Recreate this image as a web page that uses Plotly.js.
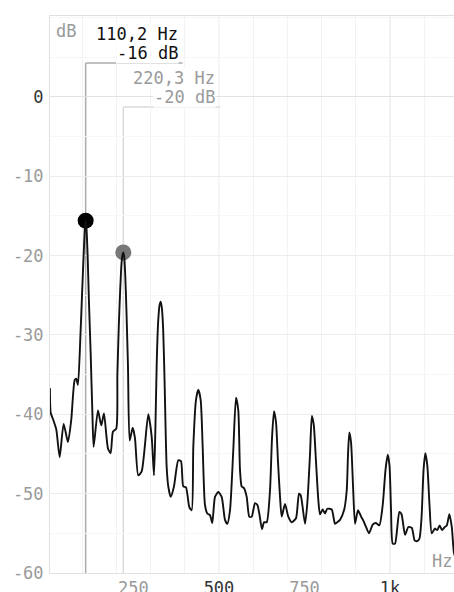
<!DOCTYPE html>
<html>
<head>
<meta charset="utf-8">
<script src="https://cdn.plot.ly/plotly-3.0.1.min.js"></script>
<style>
  html, body { margin: 0; padding: 0; background: #fff; }
  #chart { width: 454px; height: 592px; }
</style>
</head>
<body>
<div id="chart"></div>
<script>
// Spectrum of a harmonic tone: frequency (Hz) and level (dB)
const freqHz = [
  5.8, 8, 14.6, 24.3, 34.2, 45.9, 58.5, 68.1, 78.1, 82.7,
  87.7, 95, 100, 105, 108, 110.2, 112.5, 116, 120, 125,
  130, 133.6, 146.2, 155.8, 163.7, 175.4, 183.3, 190, 199.7, 203,
  207, 211, 215, 218, 220.3, 223, 226, 229.5, 234, 238.9,
  247.7, 254.4, 264, 274, 293.3, 303.2, 310, 314, 318, 322,
  326, 329.5, 333, 337, 341, 347, 351.8, 358.8, 368.4, 381,
  388.9, 395.6, 403.5, 413.2, 420.2, 424.9, 432.7, 439.5, 446.5, 452.3,
  459, 465.8, 473.7, 480.4, 488.3, 498, 507.9, 517.5, 524.3, 532.2,
  541.8, 549.7, 556.4, 561.4, 566.4, 573.1, 581, 588.6, 595.6, 605.3,
  612, 617.8, 625.7, 631.6, 639.5, 649.1, 655, 660.8, 666.7, 672.5,
  678.4, 683.3, 693, 702.6, 712.6, 725.1, 733.9, 738.9, 751.5, 758.2,
  766.1, 771.5, 777, 783, 790.4, 795.3, 803.2, 810, 816.7, 829.5,
  839.2, 845.9, 853.8, 865.5, 873.4, 877.2, 881, 886, 891.8, 897.7,
  906, 910.2, 916.7, 922, 929.8, 938.6, 949.4, 959.1, 968.7, 978.7,
  986.8, 993.3, 998.5, 1002.9, 1007.9, 1014.6, 1027.2, 1033.6, 1043.9, 1053.5,
  1063.5, 1072, 1078.1, 1085.7, 1092.1, 1098, 1103.2, 1109.1, 1115.5, 1121.9,
  1131, 1138, 1145, 1152, 1160, 1166, 1173.4, 1180.5, 1187.1, 1195
];
const levelDb = [
  -36.7, -39.8, -40.6, -41.9, -45.4, -41.2, -43.5, -40.7, -35.7, -35.5,
  -36.3, -30, -24.5, -19.2, -16.4, -15.6, -16.4, -20, -26, -32.5,
  -40, -44.1, -39.5, -41.4, -39.9, -44.3, -44.9, -42.2, -41.8, -35,
  -29, -24.5, -21, -19.9, -19.6, -20.2, -22.5, -27, -34, -43.3,
  -41.7, -43.0, -47.7, -47.2, -40.0, -42.8, -47.7, -42, -33.5, -28.5,
  -26.3, -25.8, -26.6, -29.5, -36, -46.6, -49.1, -50.4, -49.1, -45.8,
  -45.9, -49.1, -49.2, -51.7, -52.1, -44.1, -38.2, -36.9, -38.2, -44.1,
  -51.4, -52.5, -52.7, -53.7, -50.4, -49.8, -50.4, -53.3, -53.8, -52.1,
  -44.5, -37.9, -39.5, -47, -49.1, -49.3, -50.4, -52.9, -52.9, -51.2,
  -51.4, -52.5, -54.5, -53.6, -53.6, -49.6, -43, -39.6, -41, -46,
  -50.4, -52.9, -51.3, -52.9, -53.6, -53.1, -50.0, -50.2, -53.8, -51.2,
  -45, -40.2, -41.3, -45.5, -50.8, -52.6, -52.0, -52.5, -51.9, -52.0,
  -53.8, -53.6, -53.3, -52.1, -49.6, -45, -42.3, -43.5, -49, -53.8,
  -52.1, -52.4, -53, -53.4, -54.2, -55.0, -53.9, -53.7, -54.0, -51.4,
  -47, -45.1, -46.5, -52, -56.3, -56.3, -52.3, -52.6, -55.2, -54.2,
  -54.3, -55.9, -56.0, -55.7, -53, -47, -44.9, -46.5, -51.5, -55.0,
  -54.4, -54.6, -54.0, -54.6, -54.2, -54.0, -52.6, -54.2, -57.5, -58.5
];

// Picked peaks (fundamental and 2nd harmonic)
const peakHz = [110.2, 220.3];
const peakDb = [-15.6, -19.6];

// Axis ticks
const xTickVals = [250, 500, 750, 1000];
const xTickText = ['250', '500', '750', '1k'];
const xTickStrong = [false, true, false, true];
const yTickVals = [-60, -50, -40, -30, -20, -10, 0];
const yTickText = ['-60', '-50', '-40', '-30', '-20', '-10', '0'];
const yTickStrong = [false, false, false, false, false, false, true];

// ---- styling ----
const W = 454, H = 592;
const M = { l: 50, r: 0, t: 16, b: 19 };
const plotH = H - M.t - M.b;
const paperY = (py) => 1 - (py - M.t) / plotH;

const MONO = 'DejaVu Sans Mono, monospace';
const FS = 17;
const GRAY = '#9a9a9a';
const DARK = '#333333';

const peakMarkerColors = ['#000000', '#777777'];
const peakTextColors = ['#111111', '#9a9a9a'];
const bracketColors = ['#ababab', '#dadada'];
const bracketPx = [63, 107];     // vertical pixel of each readout's bracket
const bracketLen = 97;           // bracket length in pixels

const colorTick = (txt, strong) =>
  '<span style="color:' + (strong ? DARK : GRAY) + '">' + txt + '</span>';

const fmtHz = (f) => f.toFixed(1).replace('.', ',') + ' Hz';
const fmtDb = (d) => Math.round(d) + ' dB';

const shapes = [];
// accent grid lines at 500 Hz and 1 kHz
[[500, '#f0f0f0'], [1000, '#e2e2e2']].forEach(([f, c]) => {
  shapes.push({ type: 'line', xref: 'x', yref: 'paper', x0: f, x1: f, y0: 0, y1: 1,
    line: { color: c, width: 1 }, layer: 'below' });
});
const annotations = [];
peakHz.forEach((f, i) => {
  const yb = paperY(bracketPx[i]);
  shapes.push({ type: 'line', xref: 'x', yref: 'paper', x0: f, x1: f, y0: 0, y1: yb,
    line: { color: bracketColors[i], width: 1.5 }, layer: 'below' });
  shapes.push({ type: 'line', xref: 'x', xsizemode: 'pixel', xanchor: f, x0: 0, x1: bracketLen,
    yref: 'paper', y0: yb, y1: yb, line: { color: bracketColors[i], width: 1.5 }, layer: 'below' });
  const lines = [fmtHz(f), fmtDb(peakDb[i])];
  const offs = [29, 10];
  lines.forEach((t, k) => {
    annotations.push({
      xref: 'x', x: f, xanchor: 'right', xshift: 93,
      yref: 'paper', y: paperY(bracketPx[i] - offs[k]), yanchor: 'middle',
      text: t, showarrow: false, bgcolor: '#ffffff', borderpad: 0,
      font: { family: MONO, size: FS, color: peakTextColors[i] }
    });
  });
});
// unit labels
annotations.push({ xref: 'paper', x: 0, xanchor: 'left', xshift: 5,
  yref: 'paper', y: paperY(31), yanchor: 'middle', text: 'dB', showarrow: false,
  bgcolor: '#ffffff', borderpad: 0, font: { family: MONO, size: FS, color: GRAY } });
annotations.push({ xref: 'paper', x: 1, xanchor: 'right', xshift: 0,
  yref: 'paper', y: paperY(561), yanchor: 'middle', text: 'Hz', showarrow: false,
  font: { family: MONO, size: FS, color: GRAY } });

const traces = [
  {
    type: 'scatter', mode: 'markers', x: peakHz, y: peakDb,
    marker: { size: 16, color: peakMarkerColors }, hoverinfo: 'skip', cliponaxis: false
  },
  {
    type: 'scatter', mode: 'lines', x: freqHz, y: levelDb,
    line: { color: '#111111', width: 1.9, shape: 'spline', smoothing: 0.6 }, hoverinfo: 'skip'
  }
];

const layout = {
  width: W, height: H, margin: M,
  paper_bgcolor: '#ffffff', plot_bgcolor: '#ffffff',
  showlegend: false,
  font: { family: MONO, size: FS, color: GRAY },
  xaxis: {
    range: [6, 1187], fixedrange: true,
    tickmode: 'array', tickvals: xTickVals,
    ticktext: xTickText.map((t, i) => colorTick(t, xTickStrong[i])),
    showgrid: false, zeroline: false,
    showline: true, mirror: true, linecolor: '#e0e0e0', linewidth: 1,
    ticks: '', tickfont: { family: MONO, size: FS },
    minor: { tickmode: 'linear', tick0: 0, dtick: 100, showgrid: true, gridcolor: '#f2f2f2', gridwidth: 1, ticks: '' }
  },
  yaxis: {
    range: [-60, 10.2], fixedrange: true,
    tickmode: 'array', tickvals: yTickVals,
    ticktext: yTickText.map((t, i) => colorTick(t, yTickStrong[i])),
    ticklabelstandoff: 2,
    showgrid: true, gridcolor: '#ececec', gridwidth: 1,
    zeroline: true, zerolinecolor: '#e2e2e2', zerolinewidth: 1,
    showline: true, mirror: true, linecolor: '#e0e0e0', linewidth: 1,
    ticks: '', tickfont: { family: MONO, size: FS },
    minor: { tickmode: 'linear', tick0: 0, dtick: 5, showgrid: true, gridcolor: '#f6f6f6', gridwidth: 1, ticks: '' }
  },
  shapes: shapes,
  annotations: annotations
};

Plotly.newPlot('chart', traces, layout, { staticPlot: true, displayModeBar: false });
</script>
</body>
</html>
